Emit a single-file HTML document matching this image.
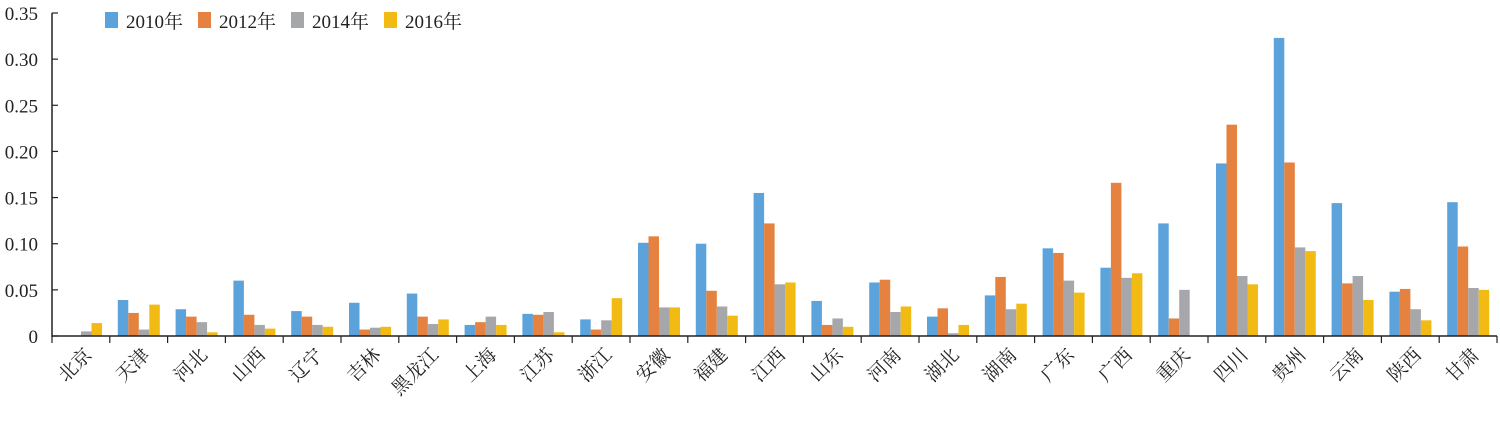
<!DOCTYPE html>
<html><head><meta charset="utf-8"><style>
body{margin:0;background:#fff;}
svg text{font-family:"Liberation Serif","Noto Serif CJK SC","Noto Sans CJK SC",serif;fill:#222;}
</style></head><body>
<svg id="chart" width="1500" height="418" xmlns="http://www.w3.org/2000/svg"></svg>
<script>
const categories=["北京","天津","河北","山西","辽宁","吉林","黑龙江","上海","江苏","浙江","安徽","福建","江西","山东","河南","湖北","湖南","广东","广西","重庆","四川","贵州","云南","陕西","甘肃"];
const s2010=[0,0.039,0.029,0.060,0.027,0.036,0.046,0.012,0.024,0.018,0.101,0.100,0.155,0.038,0.058,0.021,0.044,0.095,0.074,0.122,0.187,0.323,0.144,0.048,0.145];
const s2012=[0,0.025,0.021,0.023,0.021,0.007,0.021,0.015,0.023,0.007,0.108,0.049,0.122,0.012,0.061,0.030,0.064,0.090,0.166,0.019,0.229,0.188,0.057,0.051,0.097];
const s2014=[0.005,0.007,0.015,0.012,0.012,0.009,0.013,0.021,0.026,0.017,0.031,0.032,0.056,0.019,0.026,0.003,0.029,0.060,0.063,0.050,0.065,0.096,0.065,0.029,0.052];
const s2016=[0.014,0.034,0.004,0.008,0.010,0.010,0.018,0.012,0.004,0.041,0.031,0.022,0.058,0.010,0.032,0.012,0.035,0.047,0.068,0,0.056,0.092,0.039,0.017,0.050];
const seriesNames=["2010年","2012年","2014年","2016年"];
const yTicks=[0,0.05,0.10,0.15,0.20,0.25,0.30,0.35];
const yTickLabels=["0","0.05","0.10","0.15","0.20","0.25","0.30","0.35"];

const colors=["#5ba3da","#e5823f","#a5a7ab","#f2bb14"];
const series=[s2010,s2012,s2014,s2016];
const X0=52,X1=1497,Y0=336,Y1=13,YMAX=0.35;
const bw=(X1-X0)/categories.length;
const y=v=>Y0-(v/YMAX)*(Y0-Y1);
const xs=i=>X0+i*bw;
const svg=document.getElementById('chart');
const NS="http://www.w3.org/2000/svg";
function mk(t,a){const e=document.createElementNS(NS,t);for(const k in a)e.setAttribute(k,a[k]);svg.appendChild(e);return e;}

series.forEach((s,si)=>{s.forEach((v,i)=>{
  const r=mk('rect',{x:xs(i)+8+si*10.5,y:y(v),width:10.5,height:Y0-y(v),fill:colors[si]});
  
  
});});

const ya=mk('line',{x1:X0,y1:Y1,x2:X0,y2:Y0+1,stroke:'#222','stroke-width':1.5});


const xa=mk('line',{x1:X0,y1:Y0,x2:X1,y2:Y0,stroke:'#222','stroke-width':1.5});



yTicks.forEach((t,i)=>{
  const l=mk('line',{x1:X0,y1:y(t),x2:X0+6,y2:y(t),stroke:'#222','stroke-width':1.2});
  
  
  const tx=mk('text',{x:38,y:y(t)+7,'text-anchor':'end','font-size':19});
  tx.textContent=yTickLabels[i];
  
  
});
for(let i=0;i<=categories.length;i++){
  const l=mk('line',{x1:xs(i),y1:Y0,x2:xs(i),y2:Y0+7,stroke:'#222','stroke-width':1.2});
  
  
}
categories.forEach((c,i)=>{
  const cx=xs(i)+bw/2+12, cy=356;
  const t=mk('text',{x:cx,y:cy,'text-anchor':'end','font-size':19,transform:`rotate(-45 ${cx} ${cy})`});
  t.textContent=c;
  
  
});
seriesNames.forEach((n,i)=>{
  const lx=105+i*93;
  const r=mk('rect',{x:lx,y:12,width:13,height:16,fill:colors[i]});
  
  
  const t=mk('text',{x:lx+21,y:28,'font-size':19});
  t.textContent=n;
  
  
});
</script>
</body></html>
